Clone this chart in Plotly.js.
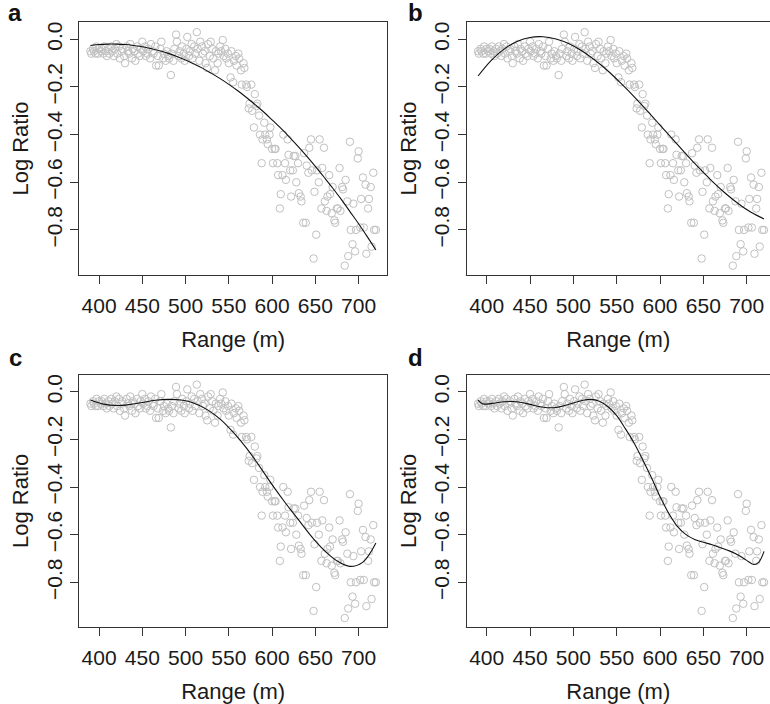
<!DOCTYPE html>
<html>
<head>
<meta charset="utf-8">
<script src="https://cdn.plot.ly/plotly-3.0.1.min.js"></script>
<style>
html,body{margin:0;padding:0;overflow:hidden;background:#fff;}
#chart{width:770px;height:704px;}
</style>
</head>
<body>
<div id="chart"></div>
<script>
// LIDAR data: range (m) and log ratio
const rangeM = [
390,391,393,394,396,397,399,400,402,403,405,406,408,409,411,412,414,415,417,418,420,
421,423,424,426,427,429,430,432,433,435,436,438,439,441,442,444,445,447,448,450,
451,453,454,456,457,459,460,462,463,465,466,468,469,471,472,474,475,477,478,480,
481,483,484,486,487,489,490,492,493,495,496,498,499,501,502,504,505,507,508,510,
511,513,514,516,517,519,520,522,523,525,526,528,529,531,532,534,535,537,538,540,
541,543,544,546,547,549,550,552,553,555,556,558,559,561,562,564,565,567,568,570,
571,573,574,576,577,579,580,582,583,585,586,588,589,591,592,594,595,597,598,600,
601,603,604,606,607,609,610,612,613,615,616,618,619,621,622,624,625,627,628,630,
631,633,634,636,637,639,640,642,643,645,646,648,649,651,652,654,655,657,658,660,
661,663,664,666,667,669,670,672,673,675,676,678,679,681,682,684,685,687,688,690,
691,693,694,696,697,699,700,702,703,705,706,708,709,711,712,714,715,717,718,720
];
const logRatio = [
-0.05,-0.06,-0.04,-0.05,-0.06,-0.03,-0.06,-0.04,-0.05,-0.04,-0.06,-0.03,-0.05,-0.07,-0.04,-0.06,-0.03,-0.05,-0.07,-0.04,-0.02,
-0.06,-0.03,-0.08,-0.05,-0.04,-0.07,-0.1,-0.03,-0.05,-0.06,-0.02,-0.08,-0.04,-0.05,-0.09,-0.03,-0.06,-0.07,-0.04,-0.01,
-0.05,-0.03,-0.07,-0.06,-0.04,-0.08,-0.02,-0.05,-0.06,-0.03,-0.11,-0.07,-0.11,-0.04,-0.01,-0.08,-0.06,-0.09,-0.05,-0.07,
-0.08,-0.15,-0.06,-0.09,-0.04,0.02,-0.01,-0.07,-0.05,-0.08,-0.03,-0.06,-0.09,-0.04,0.01,-0.07,-0.05,-0.02,-0.08,-0.03,
-0.06,0.03,-0.04,-0.09,-0.01,-0.03,-0.06,-0.05,-0.1,-0.12,-0.02,-0.07,-0.01,-0.04,-0.08,-0.13,-0.05,-0.1,-0.06,-0.03,
-0.05,-0.003,-0.07,-0.04,-0.08,-0.06,-0.1,-0.16,-0.05,-0.18,-0.09,-0.07,-0.11,-0.06,-0.08,-0.13,-0.19,-0.1,-0.12,-0.19,
-0.2,-0.29,-0.27,-0.19,-0.3,-0.37,-0.23,-0.28,-0.27,-0.32,-0.4,-0.52,-0.42,-0.35,-0.4,-0.42,-0.44,-0.4,-0.37,-0.46,
-0.52,-0.46,-0.46,-0.52,-0.57,-0.71,-0.65,-0.57,-0.4,-0.52,-0.59,-0.42,-0.485,-0.55,-0.66,-0.55,-0.49,-0.49,-0.6,-0.52,
-0.646,-0.66,-0.68,-0.77,-0.478,-0.77,-0.53,-0.56,-0.455,-0.42,-0.55,-0.92,-0.64,-0.82,-0.55,-0.6,-0.42,-0.71,-0.54,-0.455,
-0.68,-0.72,-0.66,-0.57,-0.65,-0.73,-0.62,-0.76,-0.77,-0.71,-0.71,-0.54,-0.72,-0.62,-0.63,-0.95,-0.59,-0.68,-0.91,-0.43,
-0.8,-0.86,-0.69,-0.89,-0.8,-0.5,-0.47,-0.79,-0.67,-0.58,-0.79,-0.61,-0.9,-0.71,-0.67,-0.62,-0.87,-0.56,-0.8,-0.8
];

// Fitted curves
const fitA_x = [390,400,410,420,430,440,450,460,470,480,490,500,510,520,530,540,550,560,570,580,590,600,610,620,630,640,650,660,670,680,690,700,710,720];
const fitA_y = [-0.026,-0.022,-0.020,-0.020,-0.022,-0.026,-0.031,-0.039,-0.048,-0.059,-0.072,-0.087,-0.104,-0.122,-0.143,-0.165,-0.189,-0.215,-0.243,-0.273,-0.304,-0.338,-0.373,-0.410,-0.449,-0.490,-0.533,-0.578,-0.624,-0.672,-0.723,-0.774,-0.828,-0.884];

const fitB_x = [390,405,420,435,450,465,480,495,510,525,540,555,570,585,600,615,630,645,660,675,690,705,720];
const fitB_y = [-0.154,-0.089,-0.041,-0.009,0.008,0.011,0.001,-0.019,-0.049,-0.088,-0.133,-0.185,-0.240,-0.299,-0.360,-0.421,-0.482,-0.540,-0.595,-0.645,-0.689,-0.726,-0.754];

const fitC_x = [390,405,420,435,450,465,480,495,510,525,540,555,570,585,600,615,630,645,660,675,690,705,720];
const fitC_y = [-0.035,-0.052,-0.058,-0.054,-0.045,-0.036,-0.032,-0.035,-0.048,-0.075,-0.115,-0.170,-0.235,-0.310,-0.390,-0.465,-0.535,-0.605,-0.665,-0.710,-0.733,-0.715,-0.635];

const fitD_x = [390,395,400,410,420,430,440,450,460,470,480,490,500,510,520,530,540,550,560,570,580,590,600,610,620,630,640,650,660,670,680,690,700,708,714,720];
const fitD_y = [-0.035,-0.050,-0.052,-0.047,-0.042,-0.041,-0.045,-0.053,-0.062,-0.067,-0.066,-0.058,-0.047,-0.037,-0.032,-0.040,-0.063,-0.100,-0.155,-0.215,-0.285,-0.360,-0.440,-0.510,-0.565,-0.600,-0.620,-0.632,-0.642,-0.655,-0.668,-0.685,-0.708,-0.725,-0.715,-0.670];

const xTicks = [400,450,500,550,600,650,700];
const yTicks = [-0.8,-0.6,-0.4,-0.2,0.0];
const panelLabels = ['a','b','c','d'];

const W = 770, H = 704;
const FONT = 'Liberation Sans, Arial, Helvetica, sans-serif';
const colDom = [[79/W, 387.3/W],[466.6/W, 1]];
const colRange = [[376.8,733.2],[376.8,726.9]];
const rowDom = [[1-274.8/H, 1-22.2/H],[1-627.2/H, 1-374.6/H]];

const fits = [[fitA_x,fitA_y],[fitB_x,fitB_y],[fitC_x,fitC_y],[fitD_x,fitD_y]];
const traces = [];
const layout = {
  width: W, height: H,
  margin: {l:0,r:0,t:0,b:0},
  paper_bgcolor:'#fff', plot_bgcolor:'#fff',
  showlegend:false,
  font:{family:FONT, color:'#1a1a1a', size:21},
  annotations: []
};

for (let i=0;i<4;i++){
  const n = i+1;
  const xs = n===1?'x':'x'+n, ys = n===1?'y':'y'+n;
  const col = i%2, row = Math.floor(i/2);
  traces.push({
    type:'scatter', mode:'markers', x: rangeM, y: logRatio, xaxis: xs, yaxis: ys,
    marker:{symbol:'circle-open', size:7.5, color:'#c0c0c0', line:{width:1, color:'#c0c0c0'}},
    hoverinfo:'x+y', cliponaxis:true
  });
  traces.push({
    type:'scatter', mode:'lines', x: fits[i][0], y: fits[i][1], xaxis: xs, yaxis: ys,
    line:{color:'#111', width:1.1, shape:'spline', smoothing:1},
    hoverinfo:'skip'
  });
  layout['xaxis'+(n===1?'':n)] = {
    domain: colDom[col], anchor: ys, range: colRange[col],
    tickmode:'array', tickvals: xTicks, ticks:'outside', ticklen:8, tickwidth:1, tickcolor:'#333',
    showline:true, mirror:true, linecolor:'#333', linewidth:1,
    showgrid:false, zeroline:false, fixedrange:true,
    tickfont:{size:21, family:FONT, color:'#1a1a1a'},
    ticklabelstandoff: 4,
    title:{text:'Range (m)', font:{size:22, family:FONT, color:'#1a1a1a'}, standoff:15}
  };
  layout['yaxis'+(n===1?'':n)] = {
    domain: rowDom[row], anchor: xs, range:[-0.9884,0.0719],
    tickmode:'array', tickvals: yTicks, tickformat:'.1f', tickangle:-90,
    ticks:'outside', ticklen:8, tickwidth:1, tickcolor:'#333',
    showline:true, mirror: col===0, linecolor:'#333', linewidth:1,
    showgrid:false, zeroline:false, fixedrange:true,
    tickfont:{size:21, family:FONT, color:'#1a1a1a'},
    ticklabelstandoff: 0,
    title:{text:'Log Ratio', font:{size:22, family:FONT, color:'#1a1a1a'}, standoff:7}
  };
  const lx = [15, 415][col], ly = [12, 357][row];
  layout.annotations.push({
    text:'<b>'+panelLabels[i]+'</b>', xref:'paper', yref:'paper',
    x: lx/W, y: 1-ly/H, xanchor:'center', yanchor:'middle', showarrow:false,
    font:{size:24, family:FONT, color:'#111'}
  });
}

Plotly.newPlot('chart', traces, layout, {displayModeBar:false});
</script>
</body>
</html>
